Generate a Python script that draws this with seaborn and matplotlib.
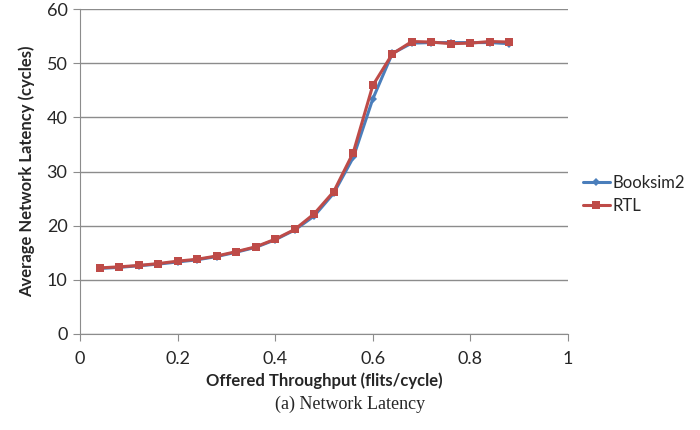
import matplotlib
matplotlib.use('Agg')
import matplotlib.pyplot as plt
import seaborn as sns
import pandas as pd

throughput = [0.04, 0.08, 0.12, 0.16, 0.20, 0.24, 0.28, 0.32, 0.36, 0.40, 0.44,
              0.48, 0.52, 0.56, 0.60, 0.64, 0.68, 0.72, 0.76, 0.80, 0.84, 0.88]
booksim2 = [12.1, 12.3, 12.6, 12.9, 13.3, 13.7, 14.3, 15.1, 16.0, 17.4, 19.2,
            21.8, 26.0, 32.6, 43.4, 51.8, 53.7, 53.8, 53.8, 53.8, 53.8, 53.6]
rtl = [12.2, 12.4, 12.65, 13.0, 13.45, 13.8, 14.4, 15.2, 16.1, 17.5, 19.3,
       22.2, 26.3, 33.5, 45.9, 51.7, 54.0, 53.9, 53.6, 53.7, 54.0, 53.9]

df = pd.concat([
    pd.DataFrame({'x': throughput, 'y': booksim2, 'series': 'Booksim2'}),
    pd.DataFrame({'x': throughput, 'y': rtl, 'series': 'RTL'}),
])

sns.set_style('white')
plt.rcParams['font.family'] = ['Lato', 'DejaVu Sans']

fig = plt.figure(figsize=(7, 4.3), dpi=100)
ax = fig.add_axes([80 / 700, 1 - 334 / 430, 488 / 700, 325 / 430])

sns.lineplot(data=df, x='x', y='y', hue='series', style='series',
             palette={'Booksim2': '#4A7EBB', 'RTL': '#BE4B48'},
             markers={'Booksim2': 'D', 'RTL': 's'}, dashes=False,
             markersize=6, linewidth=2.2, markeredgewidth=0, ax=ax)
for line in ax.lines:
    if line.get_marker() == 'D':
        line.set_markersize(4)

ax.set_xlim(0, 1)
ax.set_ylim(0, 60)
ax.set_xticks([0, 0.2, 0.4, 0.6, 0.8, 1])
ax.set_xticklabels(['0', '0.2', '0.4', '0.6', '0.8', '1'])
ax.set_yticks(range(0, 61, 10))
ax.yaxis.grid(True, color='#8C8C8C', linewidth=1)
ax.set_axisbelow(True)
for side in ['top', 'right']:
    ax.spines[side].set_visible(False)
for side in ['left', 'bottom']:
    ax.spines[side].set_color('#8C8C8C')
ax.tick_params(axis='both', direction='out', length=5, color='#8C8C8C',
               labelsize=13, left=True, bottom=True)
ax.tick_params(axis='x', pad=7)
ax.tick_params(axis='y', pad=4)

ax.set_xlabel('Offered Throughput (flits/cycle)', fontsize=12, fontweight='bold',
              labelpad=4)
ax.set_ylabel('Average Network Latency (cycles)', fontsize=12, fontweight='bold',
              labelpad=8)

ax.legend(loc='center left', bbox_to_anchor=(1.0, 0.43), frameon=False,
          fontsize=12, handlelength=1.6, handletextpad=0.2, labelspacing=0.4)

fig.text(0.5, 1 - 404 / 430, '(a) Network Latency', ha='center', va='center',
         fontsize=13, family=['Liberation Serif', 'DejaVu Serif'])

fig.savefig('out.png', dpi=100)
